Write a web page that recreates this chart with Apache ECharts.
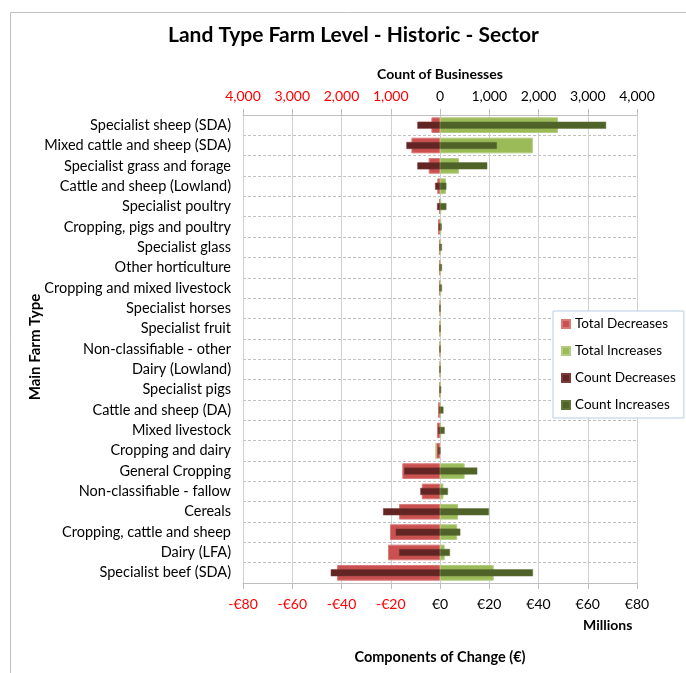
<!DOCTYPE html>
<html>
<head>
<meta charset="utf-8">
<script src="https://cdn.jsdelivr.net/npm/echarts@6/dist/echarts.min.js"></script>
<style>
html,body{margin:0;padding:0;background:#fff;}
#chart{width:686px;height:673px;}
</style>
</head>
<body>
<div id="chart"></div>
<script>
var categories = ["Specialist sheep (SDA)", "Mixed cattle and sheep (SDA)", "Specialist grass and forage", "Cattle and sheep (Lowland)", "Specialist poultry", "Cropping, pigs and poultry", "Specialist glass", "Other horticulture", "Cropping and mixed livestock", "Specialist horses", "Specialist fruit", "Non-classifiable - other", "Dairy (Lowland)", "Specialist pigs", "Cattle and sheep (DA)", "Mixed livestock", "Cropping and dairy", "General Cropping", "Non-classifiable - fallow", "Cereals", "Cropping, cattle and sheep", "Dairy (LFA)", "Specialist beef (SDA)"];
var totalDecreases = [-3.5, -11.6, -4.6, -1.1, -0.4, -0.8, -0.3, -0.2, -0.3, -0.2, -0.2, -0.2, -0.2, -0.2, -0.8, -1.2, -1.6, -15.3, -7.4, -16.6, -20.3, -21.1, -41.8];
var totalIncreases = [47.9, 37.7, 7.7, 2.4, 0.5, 0.5, 0.3, 0.3, 0.3, 0, 0, 0, 0, 0.2, 0.3, 0.5, 0, 10.0, 1.4, 7.3, 7.0, 1.9, 21.8];
var countDecreases = [-460, -683, -460, -100, -60, -30, -10, -10, -10, -5, -5, -5, -5, -5, -20, -40, -40, -730, -400, -1156, -900, -832, -2218];
var countIncreases = [3373, 1156, 960, 130, 130, 35, 40, 40, 40, 5, 5, 5, 5, 25, 70, 95, 5, 757, 162, 994, 413, 203, 1888];
var countTicks = {min: -4000, max: 4000, interval: 1000};
var euroTicks = {min: -80, max: 80, interval: 20};

var FONT = 'Lato';
var chart = echarts.init(document.getElementById('chart'));
var option = {
  backgroundColor: '#fff',
  textStyle: {fontFamily: FONT},
  title: {
    text: 'Land Type Farm Level - Historic - Sector',
    left: 163, top: 20,
    textStyle: {fontFamily: FONT, fontSize: 21, fontWeight: 'bold', color: '#000'}
  },
  graphic: [
    {type: 'rect', left: 8, top: 10, shape: {width: 700, height: 700}, style: {fill: 'none', stroke: '#BFBFBF', lineWidth: 1}, silent: true, z: -1},
    {type: 'text', left: 583, top: 618, style: {text: 'Millions', font: 'bold 14px ' + FONT, fill: '#000'}},
    {type: 'text', x: 35, y: 347, rotation: Math.PI / 2,
     style: {text: 'Main Farm Type', font: 'bold 15px ' + FONT, fill: '#000', align: 'center', verticalAlign: 'middle'}}
  ],
  legend: {
    orient: 'vertical', left: 553, top: 311,
    itemWidth: 8, itemHeight: 8, itemGap: 13,
    padding: [6, 8, 6, 8],
    backgroundColor: '#fff', borderColor: '#B9CDE5', borderWidth: 1,
    icon: 'rect',
    textStyle: {fontFamily: FONT, fontSize: 13.5, color: '#000'},
    data: ['Total Decreases', 'Total Increases', 'Count Decreases', 'Count Increases']
  },
  grid: {left: 243, right: 49, top: 115, bottom: 90, containLabel: false},
  xAxis: [
    {
      type: 'value', position: 'top', min: countTicks.min, max: countTicks.max, interval: countTicks.interval,
      name: 'Count of Businesses', nameLocation: 'middle', nameGap: 34,
      nameTextStyle: {fontFamily: FONT, fontSize: 14, fontWeight: 'bold', color: '#000'},
      axisLine: {show: true, lineStyle: {color: '#BFBFBF'}},
      axisTick: {show: true, length: 6, lineStyle: {color: '#BFBFBF'}},
      splitLine: {show: true, lineStyle: {color: '#D0D0D0', type: 'solid'}},
      axisLabel: {
        margin: 12, fontSize: 14, fontFamily: FONT,
        formatter: function (v) {
          var s = Math.abs(v).toLocaleString('en-US');
          return v < 0 ? '{r|' + s + '}' : '{k|' + s + '}';
        },
        rich: {r: {color: '#FF0000', fontSize: 14, fontFamily: FONT}, k: {color: '#000', fontSize: 14, fontFamily: FONT}}
      }
    },
    {
      type: 'value', position: 'bottom', min: euroTicks.min, max: euroTicks.max, interval: euroTicks.interval,
      name: 'Components of Change (€)', nameLocation: 'middle', nameGap: 67,
      nameTextStyle: {fontFamily: FONT, fontSize: 14.5, fontWeight: 'bold', color: '#000'},
      axisLine: {show: true, lineStyle: {color: '#BFBFBF'}},
      axisTick: {show: true, length: 6, lineStyle: {color: '#BFBFBF'}},
      splitLine: {show: false},
      axisLabel: {
        margin: 14, fontSize: 14, fontFamily: FONT,
        formatter: function (v) {
          var s = '€' + Math.abs(v);
          return v < 0 ? '{r|-' + s + '}' : '{k|' + s + '}';
        },
        rich: {r: {color: '#FF0000', fontSize: 14, fontFamily: FONT}, k: {color: '#000', fontSize: 14, fontFamily: FONT}}
      }
    }
  ],
  yAxis: [
    {
      type: 'category', data: categories, inverse: true,
      axisLine: {show: false}, axisTick: {show: false},
      splitLine: {show: true, lineStyle: {color: '#BFBFBF', type: [3, 2]}},
      axisLabel: {margin: 12, fontSize: 14.5, fontFamily: FONT, color: '#000'}
    },
    {type: 'category', data: categories, inverse: true, show: false}
  ],
  series: [
    {name: 'Total Decreases', type: 'bar', xAxisIndex: 1, yAxisIndex: 0, stack: 'tot', barWidth: '77%',
     data: totalDecreases, itemStyle: {color: '#CB5151', borderColor: '#D97A78', borderWidth: 1}},
    {name: 'Total Increases', type: 'bar', xAxisIndex: 1, yAxisIndex: 0, stack: 'tot', barWidth: '77%',
     data: totalIncreases, itemStyle: {color: '#9BBB59', borderColor: '#B3CC80', borderWidth: 1}},
    {name: 'Count Decreases', type: 'bar', xAxisIndex: 0, yAxisIndex: 1, stack: 'cnt', barWidth: 7,
     data: countDecreases, itemStyle: {color: '#632523', borderColor: '#7A3B39', borderWidth: 0.5}},
    {name: 'Count Increases', type: 'bar', xAxisIndex: 0, yAxisIndex: 1, stack: 'cnt', barWidth: 7,
     data: countIncreases, itemStyle: {color: '#4F6228', borderColor: '#62753A', borderWidth: 0.5}}
  ]
};
chart.setOption(option);
</script>
</body>
</html>
